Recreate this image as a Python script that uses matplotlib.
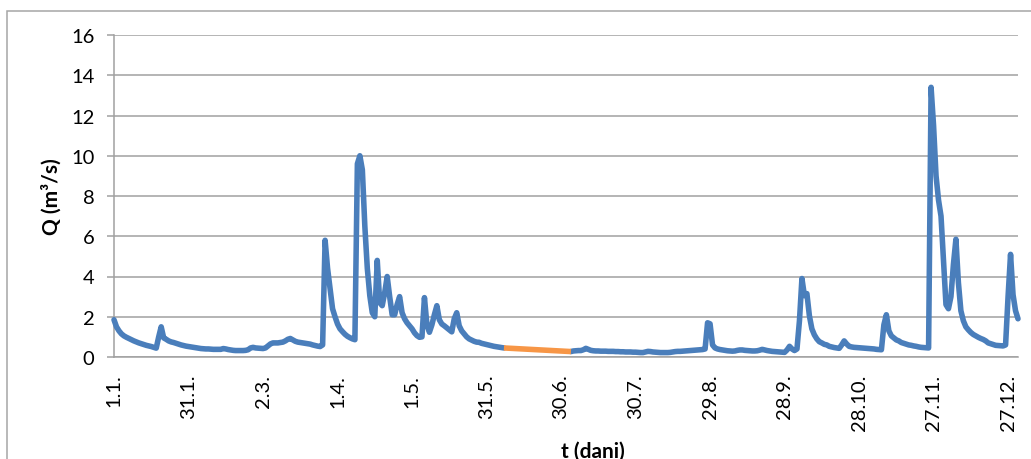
import numpy as np
import matplotlib
matplotlib.use("Agg")
import matplotlib.pyplot as plt
from matplotlib.patches import Rectangle

# Daily discharge Q (m3/s), one list per month, None = missing day
q_jan = [1.85, 1.5, 1.3, 1.15, 1.05, 0.98, 0.92, 0.86, 0.8, 0.75, 0.7, 0.66, 0.62, 0.58, 0.55, 0.52,
         0.48, 0.44, 1.0, 1.5, 0.95, 0.88, 0.8, 0.75, 0.72, 0.68, 0.64, 0.6, 0.57, 0.54, 0.52]
q_feb = [0.5, 0.48, 0.46, 0.44, 0.42, 0.41, 0.4, 0.4, 0.39, 0.38, 0.38, 0.38, 0.38, 0.42, 0.4, 0.37,
         0.35, 0.33, 0.32, 0.32, 0.32, 0.32, 0.33, 0.36, 0.45, 0.48, 0.45, 0.44]
q_mar = [0.43, 0.42, 0.45, 0.55, 0.65, 0.7, 0.7, 0.7, 0.72, 0.74, 0.8, 0.88, 0.92, 0.85, 0.78, 0.74,
         0.72, 0.7, 0.68, 0.66, 0.64, 0.6, 0.57, 0.54, 0.52, 0.6, 5.8, 4.4, 3.4, 2.4, 2.0]
q_apr = [1.64, 1.4, 1.26, 1.13, 1.03, 0.96, 0.9, 0.86, 9.6, 10.0, 9.3, 6.5, 4.4, 3.05, 2.2, 2.0,
         4.8, 2.7, 2.55, 3.2, 4.0, 3.0, 2.1, 2.1, 2.6, 3.0, 2.2, 1.9, 1.7, 1.55]
q_may = [1.4, 1.2, 1.06, 0.98, 1.0, 2.95, 1.6, 1.23, 1.6, 2.1, 2.55, 1.85, 1.64, 1.55, 1.45, 1.35,
         1.25, 1.9, 2.2, 1.55, 1.3, 1.15, 1.0, 0.9, 0.84, 0.78, 0.74, 0.73, 0.68, 0.65, 0.62]
q_jun = [0.59, 0.56, 0.53, 0.51, 0.49, 0.47, 0.45] + [None] * 23
q_jul = [None] * 3 + [0.27, 0.3, 0.31, 0.32, 0.32, 0.36, 0.43, 0.38, 0.33, 0.31, 0.3, 0.3, 0.29, 0.29,
                     0.29, 0.28, 0.28, 0.28, 0.27, 0.27, 0.26, 0.26, 0.25, 0.25, 0.25, 0.24, 0.24, 0.23]
q_aug = [0.22, 0.22, 0.25, 0.28, 0.27, 0.25, 0.24, 0.23, 0.22, 0.22, 0.22, 0.22, 0.23, 0.25, 0.27, 0.28,
         0.28, 0.29, 0.3, 0.31, 0.32, 0.33, 0.34, 0.35, 0.36, 0.37, 0.4, 1.7, 1.65, 0.6, 0.45]
q_sep = [0.4, 0.37, 0.35, 0.33, 0.31, 0.3, 0.29, 0.3, 0.33, 0.35, 0.35, 0.33, 0.32, 0.31, 0.3, 0.3,
         0.31, 0.34, 0.38, 0.35, 0.32, 0.3, 0.28, 0.27, 0.26, 0.25, 0.24, 0.23, 0.35, 0.53]
q_oct = [0.4, 0.32, 0.4, 1.8, 3.9, 3.05, 3.15, 2.05, 1.4, 1.1, 0.9, 0.76, 0.7, 0.63, 0.6, 0.53,
         0.5, 0.47, 0.45, 0.43, 0.6, 0.8, 0.65, 0.53, 0.5, 0.48, 0.47, 0.46, 0.45, 0.44, 0.43]
q_nov = [0.42, 0.41, 0.4, 0.38, 0.37, 0.36, 1.6, 2.1, 1.3, 1.05, 0.95, 0.85, 0.8, 0.72, 0.68, 0.64,
         0.6, 0.58, 0.55, 0.53, 0.5, 0.48, 0.47, 0.46, 0.45, 13.4, 11.5, 9.0, 7.8, 7.0]
q_dec = [4.8, 2.6, 2.4, 3.0, 4.6, 5.85, 3.7, 2.3, 1.8, 1.5, 1.35, 1.22, 1.12, 1.05, 0.98, 0.92,
         0.87, 0.8, 0.7, 0.66, 0.62, 0.58, 0.57, 0.56, 0.55, 0.6, 3.0, 5.1, 3.1, 2.3, 1.9]

tick_days = [0, 30, 60, 90, 120, 150, 180, 210, 240, 270, 300, 330, 360]
tick_labels = ["1.1.", "31.1.", "2.3.", "1.4.", "1.5.", "31.5.", "30.6.",
               "30.7.", "29.8.", "28.9.", "28.10.", "27.11.", "27.12."]

q = np.array(q_jan + q_feb + q_mar + q_apr + q_may + q_jun +
             q_jul + q_aug + q_sep + q_oct + q_nov + q_dec, dtype=float)
days = np.arange(len(q))

# missing period is bridged by an orange line between the neighbouring days
missing = np.where(np.isnan(q))[0]
gap = [missing[0] - 1, missing[-1] + 1]

plt.rcParams['font.family'] = ['Lato', 'DejaVu Sans']

W, H = 1031, 460
fig = plt.figure(figsize=(W / 100, H / 100), dpi=100)
ax = fig.add_axes([114 / W, 102 / H, 904 / W, 322 / H])

# chart area border (cut by the image edge on right and bottom)
fig.patches.append(Rectangle((7 / W, -0.2), 2, 1.2 - 12 / H, transform=fig.transFigure,
                             fill=False, ec='#a6a6a6', lw=1.1))

ax.plot(days, q, color='#4a7ebb', lw=4.0, solid_joinstyle='round',
        solid_capstyle='round', clip_on=False, zorder=3)
ax.plot(gap, q[gap], color='#f79646', lw=4.0, solid_capstyle='butt', zorder=3)

ax.set_xlim(0, 364)
ax.set_ylim(0, 16)
ax.set_yticks(range(0, 17, 2))
ax.set_xticks(tick_days)
ax.set_xticklabels(tick_labels, rotation=90)

ax.grid(axis='y', color='#a0a0a0', lw=1.1)
ax.set_axisbelow(True)
for s in ['top', 'right']:
    ax.spines[s].set_visible(False)
for s in ['left', 'bottom']:
    ax.spines[s].set_color('#a0a0a0')
    ax.spines[s].set_linewidth(1.1)

ax.tick_params(axis='y', length=5, width=1.1, color='#a0a0a0', pad=9, labelsize=14.5)
ax.tick_params(axis='x', length=0, pad=12, labelsize=14.5)

ax.set_ylabel('Q (m³/s)', fontsize=15, fontweight='bold')
ax.yaxis.set_label_coords(-0.0575, 0.5)
ax.set_xlabel('t (dani)', fontsize=15, fontweight='bold')
ax.xaxis.set_label_coords(0.53, -0.261)

fig.savefig("out.png", dpi=100)
